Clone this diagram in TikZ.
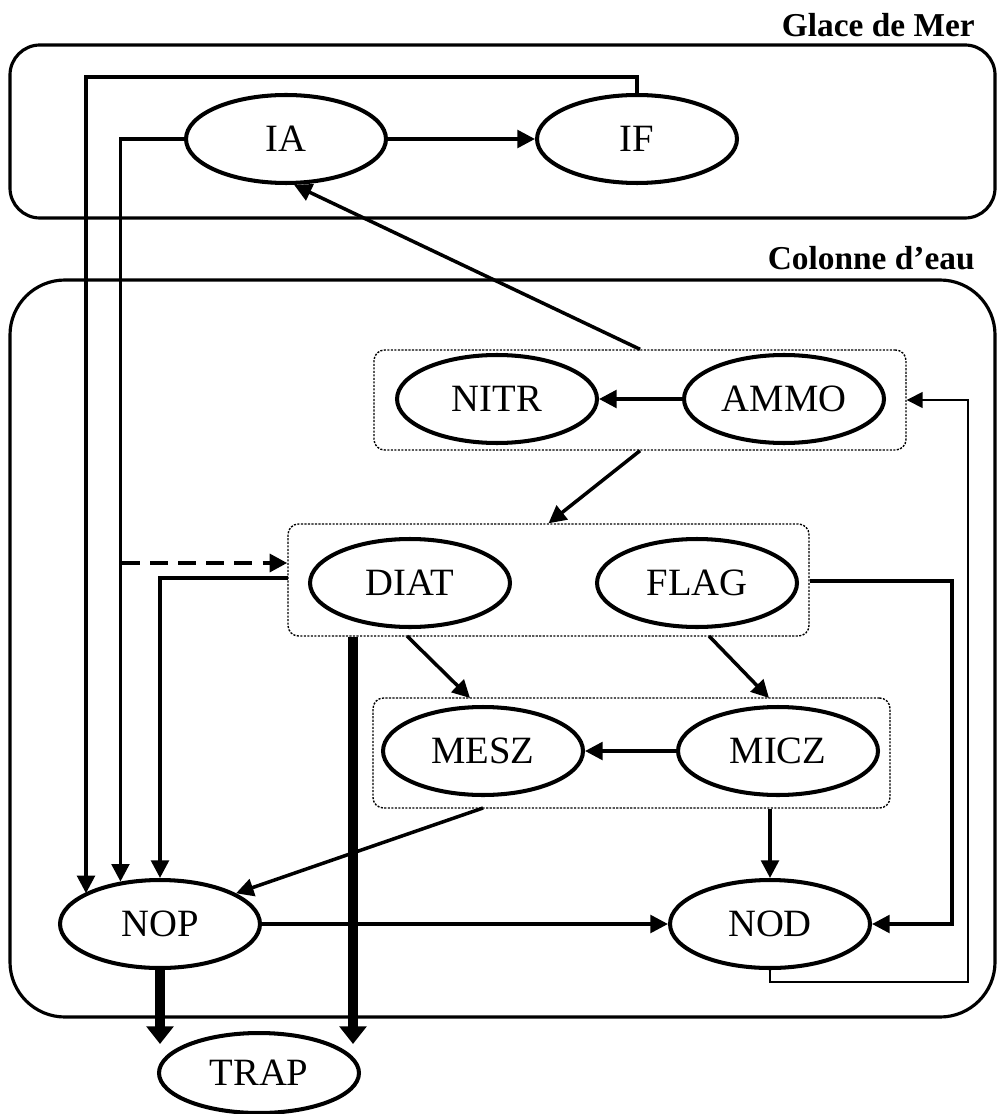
\documentclass[tikz,border=0pt]{standalone}
\usepackage{fontspec}
\setmainfont{Liberation Serif}
\usetikzlibrary{arrows.meta,fit,shapes.geometric}
\begin{document}
\begin{tikzpicture}[x=0.02cm,y=-0.02cm,
  comp/.style={ellipse,draw,line width=2.3pt,minimum width=4cm,minimum height=1.76cm,inner sep=0pt,font=\fontsize{22}{26}\selectfont,fill=white},
  grp/.style={draw,dash pattern=on 1.2pt off 0.8pt,line width=0.8pt,rounded corners=6pt,inner sep=0pt},
  zone/.style={draw,line width=1.8pt,inner sep=0pt},
  arr/.style={line width=2pt,-{Triangle[length=10pt,width=10pt]}},
  thinarr/.style={line width=0.9pt,-{Triangle[length=9pt,width=9pt]}},
  bigarr/.style={line width=5.5pt,-{Triangle[length=10pt,width=15pt]}},
  ttl/.style={font=\fontsize{19}{23}\selectfont\bfseries,anchor=base east,inner sep=0pt}
]
\useasboundingbox (0,0) rectangle (997,1114);
% zones
\node[zone, rounded corners=0.6cm, fit={(10,45)(995,218)}] (glace) {};
\node[zone, rounded corners=1.1cm, fit={(10,280)(995,1017)}] (col) {};
\node[ttl] (tglace) at (975,37) {Glace de Mer};
\node[ttl] (tcol) at (975,270) {Colonne d’eau};
% groups
\node[grp, fit={(374,350)(906,450)}] (ammog) {};
\node[grp, fit={(288,524)(809,636)}] (diatg) {};
\node[grp, fit={(373,698)(890,808)}] (meszg) {};
% compartments
\node[comp] (IA) at (286,139) {IA};
\node[comp] (IF) at (637,139) {IF};
\node[comp] (NITR) at (497,399) {NITR};
\node[comp] (AMMO) at (784,399) {AMMO};
\node[comp] (DIAT) at (410,583) {DIAT};
\node[comp] (FLAG) at (697,583) {FLAG};
\node[comp] (MESZ) at (483,751) {MESZ};
\node[comp] (MICZ) at (778,751) {MICZ};
\node[comp] (NOP) at (160,924) {NOP};
\node[comp] (NOD) at (770,924) {NOD};
\node[comp, minimum height=1.6cm] (TRAP) at (259,1073) {TRAP};
% coordinates
\coordinate (topL) at (86,77);
\coordinate (dsh) at (122,563);
\coordinate (d1) at (288,578);
\coordinate (dm1) at (407,636);
\coordinate (dm2) at (470,698);
\coordinate (fm1) at (709,636);
\coordinate (fm2) at (769,698);
\coordinate (m1) at (483,808);
\coordinate (f2) at (952,581);
\coordinate (n1) at (968,982);
\coordinate (tr) at (353,1044);
% connectors
\draw[arr] (IA.east) -- (IF.west);
\draw[arr] (IF.north) |- (topL) -- (topL |- NOP.158);
\draw[arr] (IA.west) -| (NOP.133);
\draw[arr, dash pattern=on 10pt off 6pt, line width=2.4pt] (dsh) -- (dsh -| diatg.west);
\draw[arr] (d1) -| (NOP.north);
\draw[arr] (ammog.north) -- (IA.-80);
\draw[arr] (AMMO.west) -- (NITR.east);
\draw[arr] (ammog.south) -- (diatg.north);
\draw[arr] (dm1) -- (dm2);
\draw[arr] (fm1) -- (fm2);
\draw[arr] (MICZ.west) -- (MESZ.east);
\draw[arr] (m1) -- (NOP.22);
\draw[arr] (meszg.south -| NOD.north) -- (NOD.north);
\draw[arr] (NOP.east) -- (NOD.west);
\draw[arr] (diatg.east |- f2) -- (f2) |- (NOD.east);
\draw[thinarr] (NOD.south) |- (n1) |- (ammog.east);
\draw[bigarr] (diatg.south -| tr) -- (tr);
\draw[bigarr] (NOP.south) -- (NOP.south |- tr);
\end{tikzpicture}
\end{document}
